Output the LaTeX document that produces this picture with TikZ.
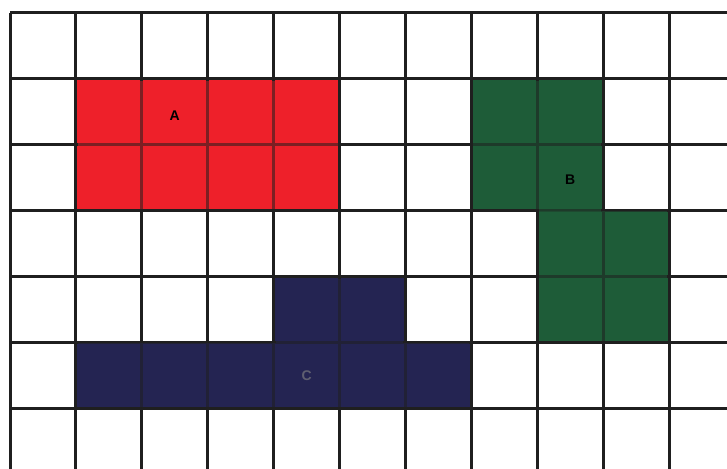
\documentclass[tikz,border=0pt]{standalone}
\usepackage{fontspec}
\setmainfont{Liberation Sans}
\definecolor{redA}{RGB}{238,32,42}
\definecolor{greenB}{RGB}{30,92,56}
\definecolor{navyC}{RGB}{36,36,82}
\tikzset{
  gridline/.style={draw=black!88, line width=3pt},
  tint/.style={opacity=0.45},
  lab/.style={font=\bfseries\fontsize{14}{14}\selectfont, text=black, inner sep=0pt},
  labdim/.style={font=\bfseries\fontsize{14}{14}\selectfont, text=gray!65!navyC, inner sep=0pt}
}
\begin{document}
\begin{tikzpicture}[x=1pt,y=1pt]
\useasboundingbox (0,0) rectangle (727,468);
\fill[white] (0,0) rectangle (727,468);
\clip (0,0) rectangle (727,468);
\begin{scope}[shift={(10,455)}, x=65.9pt, y=-65.95pt]
  % coloured regions
  \fill[redA] (1,1) rectangle (5,3);
  \fill[greenB] (7,1) rectangle (9,3);
  \fill[greenB] (8,3) rectangle (10,5);
  \fill[navyC] (4,4) rectangle (6,5);
  \fill[navyC] (1,5) rectangle (7,6);
  % grid
  \foreach \i in {0,...,11} \draw[gridline] (\i,0) -- (\i,7.3);
  \foreach \j in {0,...,7} \draw[gridline] (0,\j) -- (11.3,\j);
  % soften the grid inside the coloured regions
  \fill[redA,tint] (1.03,1.03) rectangle (4.97,2.97);
  \fill[greenB,tint] (7.03,1.03) rectangle (8.97,2.97);
  \fill[greenB,tint] (8.03,3.0) rectangle (9.97,4.97);
  \fill[greenB,tint] (8.03,2.97) rectangle (8.97,3.03);
  \fill[navyC,tint] (4.03,4.03) rectangle (5.97,5.0);
  \fill[navyC,tint] (1.03,5.0) rectangle (6.97,5.97);
  % labels
  \node[lab] (A) at (2.5,1.55) {A};
  \node[lab] (B) at (8.5,2.52) {B};
  \node[labdim] (C) at (4.5,5.5) {C};
\end{scope}
\end{tikzpicture}
\end{document}
